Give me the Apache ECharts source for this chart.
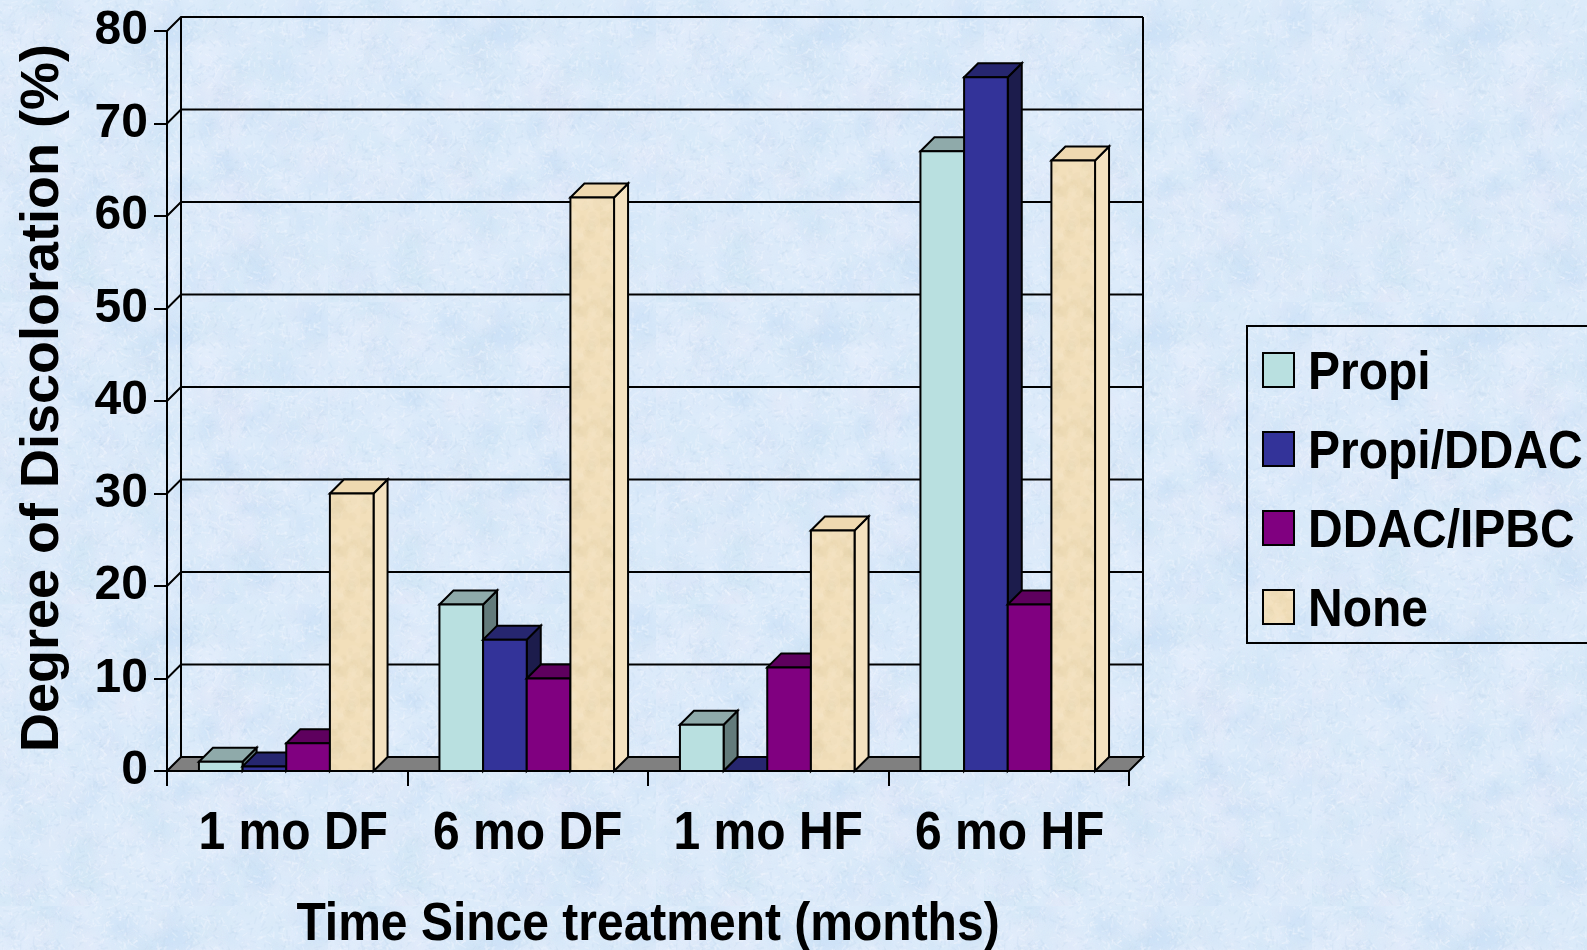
<!DOCTYPE html>
<html>
<head>
<meta charset="utf-8">
<title>Degree of Discoloration</title>
<script src="https://cdn.jsdelivr.net/npm/echarts@6/dist/echarts.min.js"></script>
<style>
  html, body { margin: 0; padding: 0; width: 100%; height: 100%; overflow: hidden; }
  #chart { width: 1587px; height: 950px; }
</style>
</head>
<body>
<div id="chart"></div>
<script>
// Chart values
const categories = ['1 mo DF', '6 mo DF', '1 mo HF', '6 mo HF'];
const propi = [1, 18, 5, 67];
const propiDdac = [0.5, 14.2, 0, 75];
const ddacIpbc = [3, 10, 11.2, 18];
const none = [30, 62, 26, 66];
const yTicks = [0, 10, 20, 30, 40, 50, 60, 70, 80];
const seriesNames = ['Propi', 'Propi/DDAC', 'DDAC/IPBC', 'None'];
const seriesValues = [propi, propiDdac, ddacIpbc, none];

// Small deterministic generator for the paper textures
function makeRandom(seed) {
  let s = seed >>> 0;
  return function () {
    s = (s * 1664525 + 1013904223) >>> 0;
    return s / 4294967296;
  };
}

// Mottled pale blue paper tile used behind the whole chart
function paperTile() {
  const c = document.createElement('canvas');
  c.width = 328; c.height = 302;
  const g = c.getContext('2d');
  const r = makeRandom(71);
  g.fillStyle = '#dcebfa';
  g.fillRect(0, 0, c.width, c.height);
  g.filter = 'blur(4px)';
  const tints = ['rgba(190,218,244,0.22)', 'rgba(240,244,253,0.24)', 'rgba(204,230,247,0.20)', 'rgba(232,232,248,0.16)'];
  for (let i = 0; i < 420; i++) {
    g.fillStyle = tints[Math.floor(r() * tints.length)];
    g.beginPath();
    g.arc(r() * c.width, r() * c.height, 4 + r() * 12, 0, Math.PI * 2);
    g.fill();
  }
  g.filter = 'blur(0.6px)';
  for (let i = 0; i < 3600; i++) {
    const x = r() * c.width, y = r() * c.height, a = r() * Math.PI * 2, l = 2 + r() * 6;
    g.strokeStyle = r() < 0.6 ? 'rgba(245,250,255,0.30)' : 'rgba(192,212,236,0.22)';
    g.lineWidth = 1 + r();
    g.beginPath();
    g.moveTo(x, y);
    g.lineTo(x + Math.cos(a) * l, y + Math.sin(a) * l);
    g.stroke();
  }
  return c;
}

// Parchment tile used for the "None" bars
function parchmentTile() {
  const c = document.createElement('canvas');
  c.width = 120; c.height = 120;
  const g = c.getContext('2d');
  const r = makeRandom(23);
  g.fillStyle = '#f2dfba';
  g.fillRect(0, 0, c.width, c.height);
  for (let i = 0; i < 420; i++) {
    g.fillStyle = r() < 0.5 ? 'rgba(226,204,162,0.12)' : 'rgba(250,234,205,0.15)';
    g.beginPath();
    g.arc(r() * c.width, r() * c.height, 1.5 + r() * 6, 0, Math.PI * 2);
    g.fill();
  }
  return c;
}

const parchment = { image: parchmentTile(), repeat: 'repeat' };

const faceColors = [
  { front: '#b9e0e0', top: '#8faaaa', side: '#637b7b' },
  { front: '#333399', top: '#26266f', side: '#1c1c4c' },
  { front: '#800080', top: '#5e005e', side: '#400040' },
  { front: parchment, top: '#efd9b0', side: '#f4e2c0' }
];

const DEPTH = 14;
const BAR_SHARE = 0.1815;
const OUTLINE = { stroke: '#000', lineWidth: 2, lineJoin: 'miter' };

function face(points, fill) {
  return {
    type: 'polygon',
    shape: { points: points },
    style: Object.assign({ fill: fill }, OUTLINE)
  };
}

// One extruded bar: side and top first, front face last
function renderBar(seriesPos, params, api) {
  const colors = faceColors[seriesPos];
  const base = api.coord([api.value(0), 0]);
  const head = api.coord([api.value(0), api.value(1)]);
  const w = api.size([1, 0])[0] * BAR_SHARE;
  const x0 = base[0] - 1 - 2 * w + seriesPos * w;
  const x1 = x0 + w;
  const y0 = base[1], y1 = head[1];
  return {
    type: 'group',
    children: [
      face([[x1, y0], [x1 + DEPTH, y0 - DEPTH], [x1 + DEPTH, y1 - DEPTH], [x1, y1]], colors.side),
      face([[x0, y1], [x0 + DEPTH, y1 - DEPTH], [x1 + DEPTH, y1 - DEPTH], [x1, y1]], colors.top),
      face([[x0, y0], [x1, y0], [x1, y1], [x0, y1]], colors.front)
    ]
  };
}

// Gridlines on the side and back walls, plus the floor at zero
function renderWall(params, api) {
  const sys = params.coordSys;
  const y = api.coord([0, api.value(0)])[1];
  const xL = sys.x, xR = sys.x + sys.width;
  const line = { stroke: '#000', lineWidth: 2, fill: null };
  const children = [];
  if (api.value(0) === 0) {
    children.push({
      type: 'polygon',
      shape: { points: [[xL, y], [xL + DEPTH, y - DEPTH], [xR + DEPTH, y - DEPTH], [xR, y]] },
      style: Object.assign({ fill: '#808080' }, OUTLINE)
    });
    children.push({
      type: 'polyline',
      shape: { points: [[xL + DEPTH, y - DEPTH], [xL + DEPTH, sys.y - DEPTH]] },
      style: line
    });
    children.push({
      type: 'polyline',
      shape: { points: [[xR + DEPTH, y - DEPTH], [xR + DEPTH, sys.y - DEPTH]] },
      style: line
    });
  } else {
    children.push({
      type: 'polyline',
      shape: { points: [[xL, y], [xL + DEPTH, y - DEPTH], [xR + DEPTH, y - DEPTH]] },
      style: line
    });
  }
  return { type: 'group', children: children };
}

const labelFont = { fontFamily: '"Liberation Sans", Arial, sans-serif', fontWeight: 'bold', fontSize: 48, color: '#000' };

// The outer category labels sit a little right of their bands
const categoryNudge = [12, 0, 0, 2];

const barSeries = seriesNames.map(function (name, i) {
  return {
    name: name,
    type: 'custom',
    silent: true,
    animation: false,
    z: 3 + i,
    itemStyle: { color: faceColors[i].front, borderColor: '#000', borderWidth: 2 },
    encode: { x: 0, y: 1 },
    data: seriesValues[i].map(function (v, c) { return [c, v]; }),
    renderItem: function (params, api) { return renderBar(i, params, api); }
  };
});

const chart = echarts.init(document.getElementById('chart'), null, { renderer: 'canvas' });
chart.setOption({
  animation: false,
  backgroundColor: { image: paperTile(), repeat: 'repeat' },
  grid: { left: 167, right: 458, top: 31, bottom: 179, outerBoundsMode: 'none' },
  xAxis: {
    type: 'category',
    data: categories.map(function (c, i) {
      return { value: c, textStyle: { padding: [0, 0, 0, categoryNudge[i]] } };
    }),
    boundaryGap: true,
    axisLine: { lineStyle: { color: '#000', width: 2 } },
    axisTick: { show: true, length: 15, lineStyle: { color: '#000', width: 2 } },
    axisLabel: Object.assign({ margin: 36, interval: 0 }, labelFont),
    name: 'Time Since treatment (months)',
    nameLocation: 'middle',
    nameGap: 127,
    nameTextStyle: labelFont
  },
  yAxis: {
    type: 'value',
    min: 0,
    max: 80,
    interval: 10,
    axisLine: { show: true, lineStyle: { color: '#000', width: 2 } },
    axisTick: { show: true, length: 13, lineStyle: { color: '#000', width: 2 } },
    axisLabel: Object.assign({ margin: 19 }, labelFont),
    splitLine: { show: false },
    name: 'Degree of Discoloration (%)',
    nameLocation: 'middle',
    nameGap: 97,
    nameRotate: 90,
    nameTextStyle: Object.assign({ padding: [0, 0, 0, 6] }, labelFont, { fontSize: 54 })
  },
  legend: {
    orient: 'vertical',
    left: 1247,
    top: 326,
    padding: [20, 30, 12, 15],
    itemWidth: 31,
    itemHeight: 34,
    itemGap: 31,
    icon: 'rect',
    selectedMode: false,
    borderColor: '#000',
    borderWidth: 2,
    data: seriesNames,
    textStyle: Object.assign({ padding: [0, 0, 0, 9], lineHeight: 48 }, labelFont)
  },
  series: [{
    type: 'custom',
    silent: true,
    animation: false,
    z: 1,
    encode: { y: 0 },
    data: yTicks.map(function (v) { return [v]; }),
    renderItem: renderWall
  }].concat(barSeries)
});

// The horizontal labels use a tall, slightly condensed look: stretch their glyph height
// and drop the tick and legend texts onto the centre of their marks
const zr = chart.getZr();
zr.storage.getDisplayList(true, true).forEach(function (el) {
  const text = el.parent;
  if (text && text.type === 'text' && !text.rotation && !text.__tall) {
    text.__tall = true;
    text.scaleY = 1.12;
    const content = String(text.style.text);
    if (seriesNames.indexOf(content) >= 0) {
      text.y += 2;
    } else if (/^\d+$/.test(content)) {
      text.y += 5;
    }
    text.markRedraw();
  }
});
zr.refreshImmediately();
</script>
</body>
</html>
